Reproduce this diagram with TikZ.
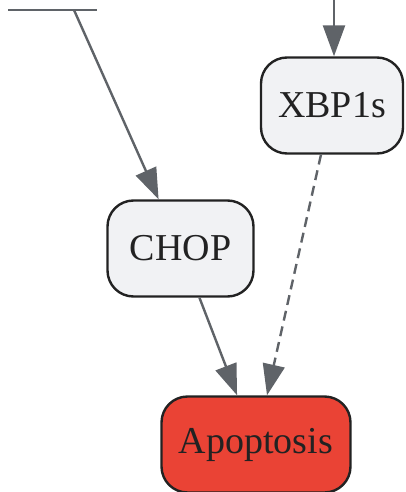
\documentclass[tikz,border=0pt]{standalone}
\usepackage{fontspec}
\setmainfont{Liberation Serif}
\usetikzlibrary{arrows.meta}
\definecolor{edgegray}{HTML}{5F6368}
\definecolor{boxfill}{HTML}{F1F2F4}
\definecolor{boxline}{HTML}{222222}
\definecolor{apored}{HTML}{EA4335}
\tikzset{
  box/.style={draw=boxline, line width=2.4pt, rounded corners=26pt, fill=boxfill,
    text=boxline, inner sep=0pt, minimum height=96pt,
    font=\fontsize{38}{42}\selectfont},
  arr/.style={draw=edgegray, line width=2.4pt, -{Triangle[length=31pt,width=22pt]}},
  dasharr/.style={arr, dash pattern=on 10pt off 6pt},
}
\begin{document}
\begin{tikzpicture}[x=1pt,y=-1pt]
\useasboundingbox (0,0) rectangle (405,492);
\node[box, minimum width=142pt] (xbp) at (332,105.5) {XBP1s};
\node[box, minimum width=146pt] (chop) at (180.5,248.5) {CHOP};
\node[box, minimum width=189pt, fill=apored] (apo) at (256,444.5) {Apoptosis};
\coordinate (l1) at (8,10);
\coordinate (l2) at (97,10);
\coordinate (c0) at (74,10);
\coordinate (t1) at (334,0);
\draw[edgegray, line width=1.4pt] (l1) -- (l2);
\draw[arr] (c0) -- (chop);
\draw[arr] (t1) -- (t1 |- xbp.north);
\draw[arr] (chop) -- (apo);
\draw[dasharr] (xbp) -- (apo);
\end{tikzpicture}
\end{document}
